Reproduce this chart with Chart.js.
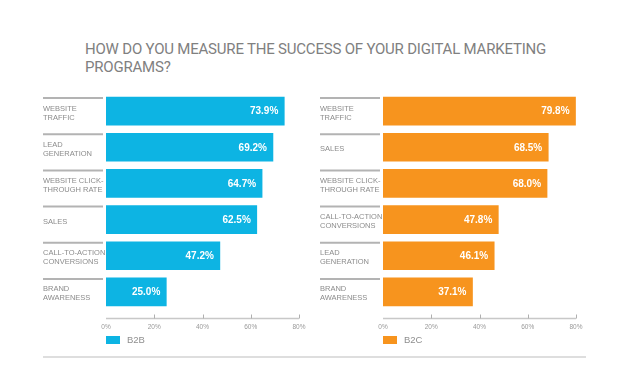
<!DOCTYPE html>
<html>
<head>
<meta charset="utf-8">
<script src="https://cdn.jsdelivr.net/npm/chart.js@4/dist/chart.umd.min.js"></script>
<style>
  html, body { margin: 0; padding: 0; background: #fff; }
  body { width: 628px; height: 370px; position: relative; overflow: hidden; }
  #title {
    position: absolute; left: 85px; top: 41px; white-space: nowrap;
    font: 400 15px Roboto, "Liberation Sans", sans-serif; line-height: 17.7px;
    letter-spacing: -0.2px; color: #808080;
  }
  .panel { position: absolute; top: 0; width: 314px; height: 370px; }
  #b2bPanel { left: 0; }
  #b2cPanel { left: 277px; }
  #rule { position: absolute; left: 43px; top: 356px; width: 543px; height: 2px; background: #dedede; }
</style>
</head>
<body>
<div id="title">HOW DO YOU MEASURE THE SUCCESS OF YOUR DIGITAL MARKETING<br>PROGRAMS?</div>
<div class="panel" id="b2bPanel"><canvas id="b2bChart"></canvas></div>
<div class="panel" id="b2cPanel"><canvas id="b2cChart"></canvas></div>
<div id="rule"></div>
<script>
const b2bLabels = [['WEBSITE', 'TRAFFIC'], ['LEAD', 'GENERATION'], ['WEBSITE CLICK-', 'THROUGH RATE'], 'SALES', ['CALL-TO-ACTION', 'CONVERSIONS'], ['BRAND', 'AWARENESS']];
const b2bValues = [73.9, 69.2, 64.7, 62.5, 47.2, 25.0];
const b2cLabels = [['WEBSITE', 'TRAFFIC'], 'SALES', ['WEBSITE CLICK-', 'THROUGH RATE'], ['CALL-TO-ACTION', 'CONVERSIONS'], ['LEAD', 'GENERATION'], ['BRAND', 'AWARENESS']];
const b2cValues = [79.8, 68.5, 68.0, 47.8, 46.1, 37.1];
const tickValues = [0, 20, 40, 60, 80];

const BLUE = '#0db4e3';
const ORANGE = '#f7941e';
const FONT = '"Liberation Sans", Arial, sans-serif';

// dividers above labels, value labels, custom x axis line and legend
const decorations = {
  id: 'decorations',
  afterDatasetsDraw(chart) {
    const { ctx, chartArea } = chart;
    const x = chart.scales.x;
    const y = chart.scales.y;
    const meta = chart.getDatasetMeta(0);
    const ds = chart.data.datasets[0];
    ctx.save();

    // divider lines
    ctx.strokeStyle = '#b3b3b3';
    ctx.lineWidth = 2;
    meta.data.forEach(bar => {
      const top = bar.y - bar.height / 2 + 1;
      ctx.beginPath();
      ctx.moveTo(y.left, top);
      ctx.lineTo(y.right - 3, top);
      ctx.stroke();
    });

    // value labels
    ctx.fillStyle = '#fff';
    ctx.font = `bold 10px ${FONT}`;
    ctx.textAlign = 'right';
    ctx.textBaseline = 'middle';
    meta.data.forEach((bar, i) => {
      ctx.fillText(`${ds.data[i].toFixed(1)}%`, bar.x - 6, bar.y + 0.5);
    });

    // axis line with small ticks
    const axisY = chartArea.bottom + 8.5;
    ctx.strokeStyle = '#c8c8c8';
    ctx.lineWidth = 1.5;
    ctx.beginPath();
    ctx.moveTo(x.getPixelForValue(0), axisY);
    ctx.lineTo(x.getPixelForValue(80), axisY);
    ctx.stroke();
    ctx.strokeStyle = '#b0b0b0';
    ctx.lineWidth = 1;
    tickValues.filter(v => v > 0).forEach(v => {
      const px = Math.round(x.getPixelForValue(v)) + 0.5;
      ctx.beginPath();
      ctx.moveTo(px, axisY - 4);
      ctx.lineTo(px, axisY);
      ctx.stroke();
    });

    // legend
    const legendTop = chartArea.bottom + 26;
    ctx.fillStyle = ds.backgroundColor;
    ctx.fillRect(chartArea.left, legendTop, 14, 8);
    ctx.fillStyle = '#8f8f8f';
    ctx.font = `9.5px ${FONT}`;
    ctx.textAlign = 'left';
    ctx.fillText(ds.label, chartArea.left + 21, legendTop + 4.5);
    ctx.restore();
  }
};

function drawPanel(id, label, labels, values, color) {
  new Chart(document.getElementById(id), {
    type: 'bar',
    data: { labels, datasets: [{ label, data: values, backgroundColor: color, barThickness: 28 }] },
    options: {
      indexAxis: 'y',
      responsive: true,
      maintainAspectRatio: false,
      animation: false,
      layout: { padding: { left: 43, top: 93, right: 15, bottom: 38 } },
      plugins: { legend: { display: false }, tooltip: { enabled: false } },
      scales: {
        x: {
          min: 0,
          max: 80,
          afterBuildTicks: scale => { scale.ticks = tickValues.map(value => ({ value })); },
          afterFit: scale => { scale.height = 22; },
          grid: { display: false },
          border: { display: false },
          ticks: { color: '#999999', font: { size: 6.5, family: FONT }, padding: 5, maxRotation: 0, callback: v => `${v}%` }
        },
        y: {
          afterFit: scale => { scale.width = 63; },
          grid: { display: false },
          border: { display: false },
          ticks: { crossAlign: 'far', color: '#8c8c8c', font: { size: 7.5, family: FONT, lineHeight: 1.2 }, labelOffset: 2, autoSkip: false }
        }
      }
    },
    plugins: [decorations]
  });
}

drawPanel('b2bChart', 'B2B', b2bLabels, b2bValues, BLUE);
drawPanel('b2cChart', 'B2C', b2cLabels, b2cValues, ORANGE);
</script>
</body>
</html>
